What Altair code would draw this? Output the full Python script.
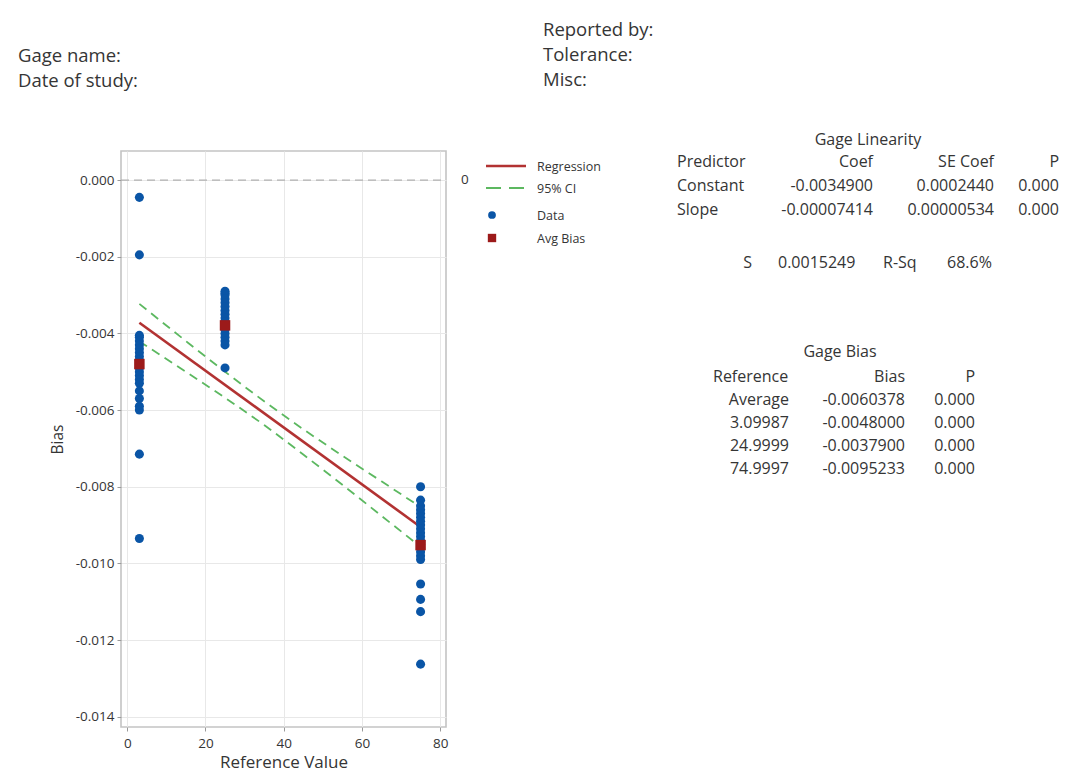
import altair as alt
import pandas as pd

# ---------------- data ----------------
ref_values = [3.09987, 24.9999, 74.9997]
bias_ref1 = [-0.00045, -0.00195, -0.00405, -0.0041, -0.0042, -0.0043, -0.0044, -0.0045,
             -0.0046, -0.0047, -0.0048, -0.0049, -0.0050, -0.0051, -0.0052, -0.0053,
             -0.0055, -0.0057, -0.0059, -0.0060, -0.00715, -0.00935]
bias_ref2 = [-0.0029, -0.00295, -0.0030, -0.0031, -0.0032, -0.0033, -0.0034, -0.0035,
             -0.0036, -0.0037, -0.0038, -0.0039, -0.0040, -0.0041, -0.0042, -0.0043, -0.0049]
bias_ref3 = [-0.0080, -0.00835, -0.0085, -0.0086, -0.0087, -0.0088, -0.0089, -0.0090,
             -0.0091, -0.0092, -0.0093, -0.0094, -0.0095, -0.0096, -0.0097, -0.0098,
             -0.0099, -0.01054, -0.01094, -0.01126, -0.01263]
avg_bias = [-0.0048000, -0.0037900, -0.0095233]

reg_x = [3.09987, 74.9997]
reg_y = [-0.00372, -0.00905]
ci_x = [3.09987, 15, 25, 35, 45, 55, 65, 74.9997]
ci_upper = [-0.00323, -0.00420, -0.00500, -0.00577, -0.00650, -0.00719, -0.00786, -0.00853]
ci_lower = [-0.00421, -0.00500, -0.00568, -0.00639, -0.00716, -0.00795, -0.00876, -0.00957]

x_ticks = [0, 20, 40, 60, 80]
y_ticks = [-0.014, -0.012, -0.010, -0.008, -0.006, -0.004, -0.002, 0.0]

header_left = ["Gage name:", "Date of study:"]
header_right = ["Reported by:", "Tolerance:", "Misc:"]

legend_labels = ["Regression", "95% CI", "Data", "Avg Bias"]

lin_title = "Gage Linearity"
lin_header = ["Predictor", "Coef", "SE Coef", "P"]
lin_rows = [["Constant", "-0.0034900", "0.0002440", "0.000"],
            ["Slope", "-0.00007414", "0.00000534", "0.000"]]
fit_stats = ["S", "0.0015249", "R-Sq", "68.6%"]

bias_title = "Gage Bias"
bias_header = ["Reference", "Bias", "P"]
bias_rows = [["Average", "-0.0060378", "0.000"],
             ["3.09987", "-0.0048000", "0.000"],
             ["24.9999", "-0.0037900", "0.000"],
             ["74.9997", "-0.0095233", "0.000"]]

# ---------------- layout ----------------
W, H = 325, 576           # plot area
OX, OY = 121, 151         # plot origin in page coordinates
FONT = "Open Sans"
TXT = "#353535"
BLUE = "#0a55a6"
DARKRED = "#9c1a1a"
REDLINE = "#b23232"
GREEN = "#5cb860"

pts = pd.DataFrame({
    "ref": [ref_values[0]] * len(bias_ref1) + [ref_values[1]] * len(bias_ref2) + [ref_values[2]] * len(bias_ref3),
    "bias": bias_ref1 + bias_ref2 + bias_ref3,
})
avg = pd.DataFrame({"ref": ref_values, "bias": avg_bias})
reg = pd.DataFrame({"ref": reg_x, "bias": reg_y})
ci = pd.concat([
    pd.DataFrame({"ref": ci_x, "bias": ci_upper, "band": "upper"}),
    pd.DataFrame({"ref": ci_x, "bias": ci_lower, "band": "lower"}),
])

xs = alt.Scale(domain=[-1.6, 81.5], nice=False, zero=False)
ys = alt.Scale(domain=[-0.01427, 0.00076], nice=False, zero=False)

X = alt.X("ref:Q", scale=xs,
          axis=alt.Axis(values=x_ticks, format="d", title="Reference Value",
                        grid=True, gridColor="#e8e8e8", domain=False,
                        tickColor="#9a9a9a", tickSize=4, labelPadding=5,
                        labelFontSize=13.5, labelColor=TXT, labelFont=FONT,
                        titleFontSize=17, titleColor=TXT, titleFont=FONT,
                        titleFontWeight="normal", titlePadding=5))
Y = alt.Y("bias:Q", scale=ys,
          axis=alt.Axis(values=y_ticks, title="Bias",
                        labelExpr="replace(format(datum.value, '.3f'), '\u2212', '-')",
                        grid=True, gridColor="#e8e8e8", domain=False,
                        tickColor="#9a9a9a", tickSize=4, labelPadding=3,
                        labelFontSize=13.5, labelColor=TXT, labelFont=FONT,
                        titleFontSize=15.5, titleColor=TXT, titleFont=FONT,
                        titleFontWeight="normal", titlePadding=10))

zero_df = pd.DataFrame({"bias": [0.0], "lab": ["0"]})
zero_line = alt.Chart(zero_df).mark_rule(color="#b0b0b0", strokeDash=[8, 5], strokeWidth=1.2).encode(
    y=alt.Y("bias:Q", scale=ys), x=alt.value(0), x2=alt.value(W))
zero_lab = alt.Chart(zero_df).mark_text(align="left", baseline="middle", font=FONT,
                                        fontSize=13.5, color=TXT).encode(
    y=alt.Y("bias:Q", scale=ys), x=alt.value(461 - OX), text="lab:N")

points = alt.Chart(pts).mark_circle(size=82, color=BLUE, opacity=1).encode(x=X, y=Y)
avgm = alt.Chart(avg).mark_square(size=110, color=DARKRED, opacity=1).encode(x=X, y=Y)
regl = alt.Chart(reg).mark_line(color=REDLINE, strokeWidth=2.6).encode(x=X, y=Y)
cil = alt.Chart(ci).mark_line(color=GREEN, strokeWidth=1.8, strokeDash=[9, 6],
                              interpolate="monotone").encode(x=X, y=Y, detail="band:N")


def txt(s, px, py, align="left", size=16, color=TXT):
    return alt.Chart(pd.DataFrame({"t": [s]})).mark_text(
        align=align, baseline="middle", font=FONT, fontSize=size, color=color
    ).encode(x=alt.value(px - OX), y=alt.value(py - OY), text="t:N")


layers = [zero_line, cil, regl, points, avgm, zero_lab]

# header
for s, py in zip(header_left, [56, 81]):
    layers.append(txt(s, 18, py, size=18.5))
for s, py in zip(header_right, [30, 55, 80]):
    layers.append(txt(s, 543, py, size=18.5))

# legend
one = pd.DataFrame({"a": [0]})
layers.append(alt.Chart(one).mark_rule(color=REDLINE, strokeWidth=2.6).encode(
    x=alt.value(486 - OX), x2=alt.value(526 - OX), y=alt.value(166 - OY)))
layers.append(alt.Chart(one).mark_rule(color=GREEN, strokeWidth=1.8, strokeDash=[15, 8]).encode(
    x=alt.value(486 - OX), x2=alt.value(526 - OX), y=alt.value(188 - OY)))
layers.append(alt.Chart(one).mark_circle(size=60, color=BLUE, opacity=1).encode(
    x=alt.value(492 - OX), y=alt.value(215 - OY)))
layers.append(alt.Chart(one).mark_square(size=70, color=DARKRED, opacity=1).encode(
    x=alt.value(492 - OX), y=alt.value(238 - OY)))
for s, py in zip(legend_labels, [167, 189, 216, 239]):
    layers.append(txt(s, 537, py, size=12.5))

# gage linearity table
layers.append(txt(lin_title, 868, 140, align="center", size=16))
lin_cols = [(677, "left"), (873, "right"), (994, "right"), (1059, "right")]
for r, row in enumerate([lin_header] + lin_rows):
    for (cx, al), s in zip(lin_cols, row):
        layers.append(txt(s, cx, 162 + 24 * r, align=al, size=16))
stat_pos = [(752, "right"), (778, "left"), (883, "left"), (947, "left")]
for (cx, al), s in zip(stat_pos, fit_stats):
    layers.append(txt(s, cx, 263, align=al, size=16))

# gage bias table
layers.append(txt(bias_title, 840, 352, align="center", size=16))
layers.append(txt(bias_header[0], 713, 377, align="left", size=16))
layers.append(txt(bias_header[1], 905, 377, align="right", size=16))
layers.append(txt(bias_header[2], 975, 377, align="right", size=16))
bias_cols = [789, 905, 975]
for r, row in enumerate(bias_rows):
    for cx, s in zip(bias_cols, row):
        layers.append(txt(s, cx, 400 + 23 * r, align="right", size=16))

chart = alt.layer(*layers).properties(
    width=W, height=H,
    autosize=alt.AutoSizeParams(type="none"),
    padding={"left": OX - 8, "top": OY - 8, "right": 1053 - (OX - 8) - W, "bottom": 765 - (OY - 8) - H},
    background="white",
).configure_view(stroke="#c4c4c4", strokeWidth=1.6)

chart.save("out.html", embed_options={"renderer": "svg", "actions": False})
